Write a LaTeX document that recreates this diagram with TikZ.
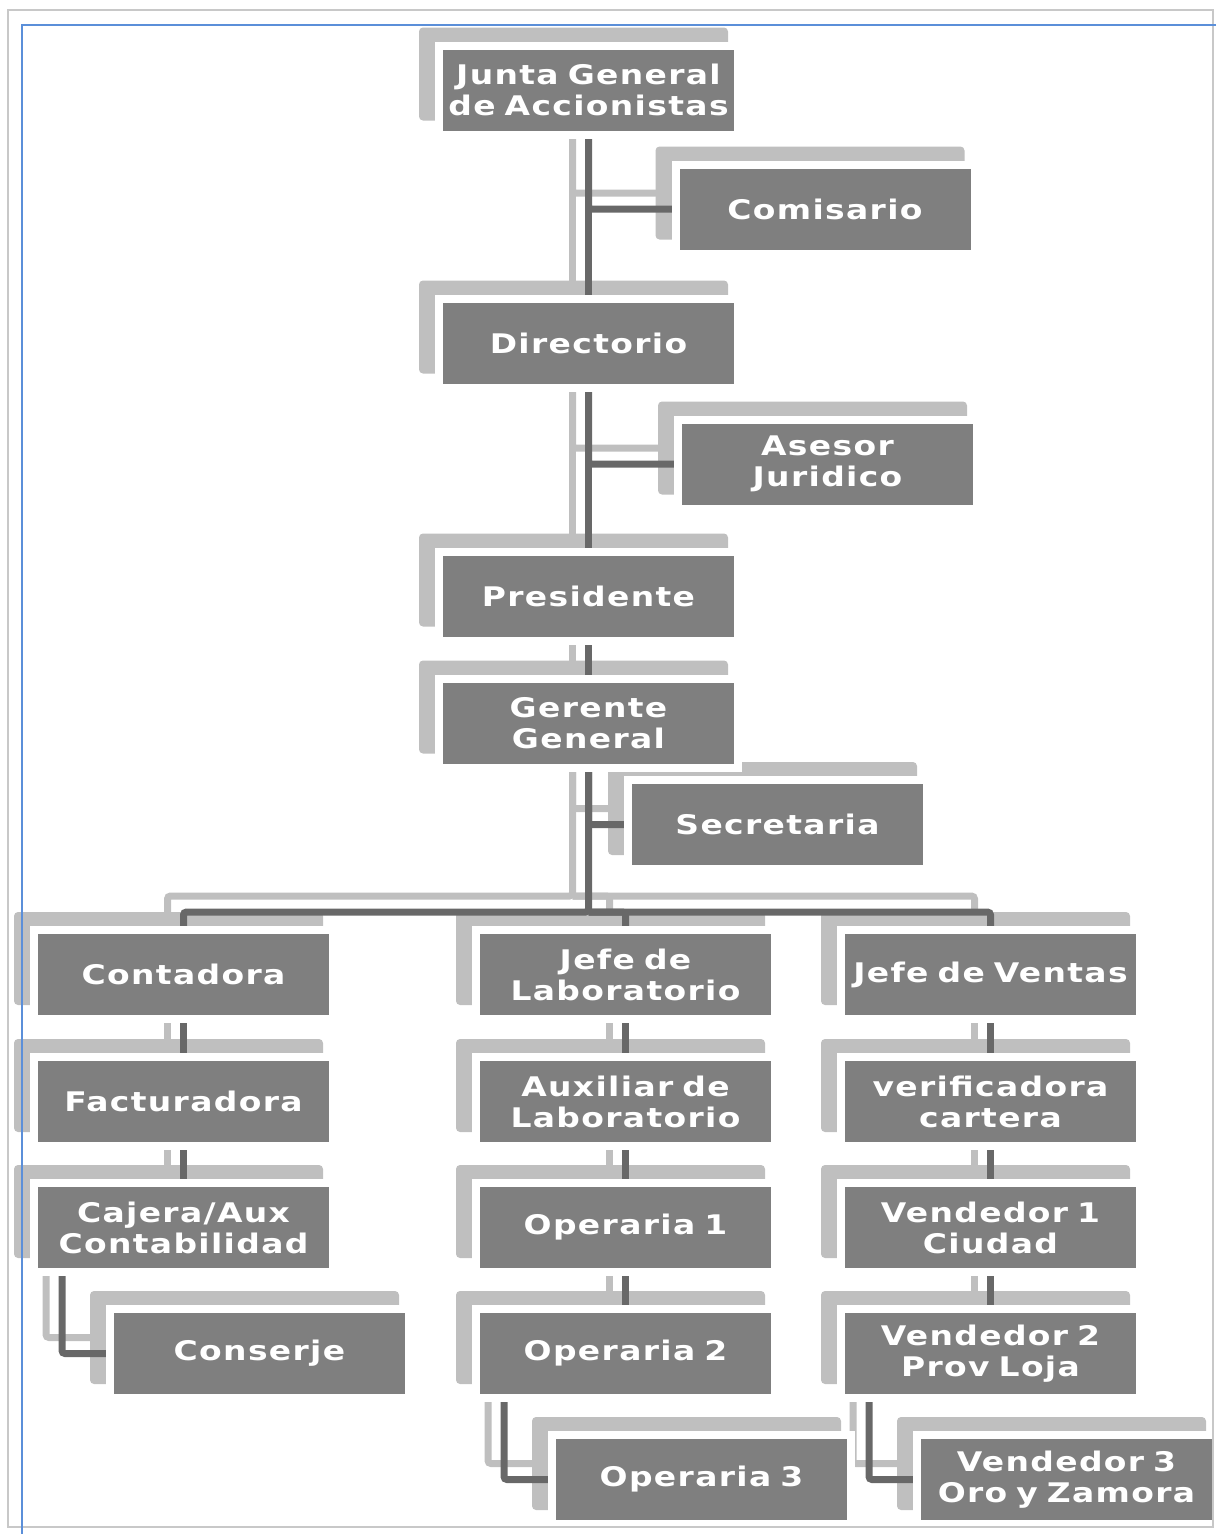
\documentclass[tikz,border=0pt]{standalone}
\usepackage{fontspec}
\setmainfont{DejaVu Sans}
\newfontfamily\orgfont[FakeStretch=1.22, LetterSpace=5]{DejaVu Sans}
\usepackage{tikz}
\usetikzlibrary{positioning, backgrounds}
\definecolor{boxgray}{HTML}{7F7F7F}
\definecolor{shadowgray}{HTML}{BFBFBF}
\definecolor{linkgray}{HTML}{686868}
\definecolor{framegray}{HTML}{C8C8C8}
\definecolor{frameblue}{HTML}{5B8FD9}
\tikzstyle{link}=[line width=7pt, color=linkgray, rounded corners=3pt]
\tikzstyle{ghostlink}=[line width=7pt, color=shadowgray, rounded corners=3pt,
                       transform canvas={shift={(-16pt,16pt)}}]

\begin{document}
\begin{tikzpicture}[x=1pt, y=-1pt,
  org/.style={rectangle, fill=boxgray, draw=white, line width=8pt,
              outer sep=0pt, inner sep=0pt, minimum width=299pt,
              minimum height=89pt, text width=291pt, align=center,
              text=white, font=\orgfont\bfseries\fontsize{27}{31}\selectfont}
]
\useasboundingbox (0,0) rectangle (1216,1534);

% Top chain
\node[org] (junta) at (588.5,90) {Junta General\\de Accionistas};
\node[org] (comisario) at (825,209) {Comisario};
\node[org, below=164pt of junta] (directorio) {Directorio};
\node[org] (asesor) at (827.5,464) {Asesor\\Juridico};
\node[org, below=164pt of directorio] (presidente) {Presidente};
\node[org, below=38pt of presidente] (gerente) {Gerente\\General};
\node[org] (secretaria) at (777.5,824.5) {Secretaria};
\coordinate (bus) at (0,912);

% Column 1: Contabilidad
\node[org] (contadora) at (183.5,974.5) {Contadora};
\node[org, below=38pt of contadora] (facturadora) {Facturadora};
\node[org, below=37pt of facturadora] (cajera) {Cajera/Aux\\Contabilidad};
\node[org, below=37pt of cajera, xshift=76pt] (conserje) {Conserje};

% Column 2: Laboratorio
\node[org] (jefelab) at (625.5,974.5) {Jefe de\\Laboratorio};
\node[org, below=38pt of jefelab] (auxlab) {Auxiliar de\\Laboratorio};
\node[org, below=37pt of auxlab] (operaria1) {Operaria 1};
\node[org, below=37pt of operaria1] (operaria2) {Operaria 2};
\node[org, below=37pt of operaria2, xshift=76pt] (operaria3) {Operaria 3};

% Column 3: Ventas
\node[org] (jefeventas) at (990.5,974.5) {Jefe de Ventas};
\node[org, below=38pt of jefeventas] (verificadora) {verificadora\\cartera};
\node[org, below=37pt of verificadora] (vendedor1) {Vendedor 1\\Ciudad};
\node[org, below=37pt of vendedor1] (vendedor2) {Vendedor 2\\Prov Loja};
\node[org, below=37pt of vendedor2, xshift=76pt] (vendedor3) {Vendedor 3\\Oro y Zamora};

\begin{scope}[on background layer]
  % box shadows
  \foreach \n in {junta, comisario, directorio, asesor, presidente, gerente,
                  secretaria, contadora, facturadora, cajera, conserje,
                  jefelab, auxlab, operaria1, operaria2, operaria3,
                  jefeventas, verificadora, vendedor1, vendedor2, vendedor3}
    \fill[shadowgray, rounded corners=4pt]
      ([shift={(-20pt,18pt)}]\n.north west) rectangle ([shift={(-10pt,14pt)}]\n.south east);

  % connectors, light copy first
  \foreach \s in {ghostlink, link} {
    \draw[\s] (junta) -- (directorio);
    \draw[\s] (junta) |- (comisario);
    \draw[\s] (directorio) -- (presidente);
    \draw[\s] (directorio) |- (asesor);
    \draw[\s] (presidente) -- (gerente);
    \draw[\s] (gerente) |- (secretaria);
    \draw[\s] (gerente) -- (gerente |- bus) -| (contadora);
    \draw[\s] (gerente |- bus) -| (jefelab);
    \draw[\s] (gerente |- bus) -| (jefeventas);
    \draw[\s] (contadora) -- (facturadora);
    \draw[\s] (facturadora) -- (cajera);
    \draw[\s] ([xshift=28pt]cajera.south west) |- (conserje);
    \draw[\s] (jefelab) -- (auxlab);
    \draw[\s] (auxlab) -- (operaria1);
    \draw[\s] (operaria1) -- (operaria2);
    \draw[\s] ([xshift=28pt]operaria2.south west) |- (operaria3);
    \draw[\s] (jefeventas) -- (verificadora);
    \draw[\s] (verificadora) -- (vendedor1);
    \draw[\s] (vendedor1) -- (vendedor2);
    \draw[\s] ([xshift=28pt]vendedor2.south west) |- (vendedor3);
  }
\end{scope}

% Frame
\draw[framegray, line width=2pt] (8,10) rectangle (1213,1527);
\draw[frameblue, line width=2pt] (1216,25) -- (22,25) -- (22,1534);
\end{tikzpicture}
\end{document}
